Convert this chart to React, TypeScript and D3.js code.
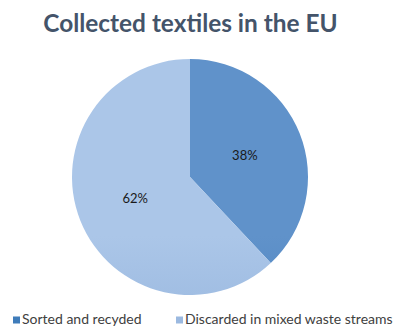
import React from "react";
import * as d3 from "d3";

const categories = ["Sorted and recycled", "Discarded in mixed waste streams"];
const values = [38, 62];
const legendLabels = ["Sorted and recyded", "Discarded in mixed waste streams"];
const title = "Collected textiles in the EU";

const W = 394;
const H = 327;
const cx = 190;
const cy = 177;
const R = 118;

const gradients = [
  { id: "g0", top: "#6092ca", bottom: "#3a76b4", legend: "#3f7cba" },
  { id: "g1", top: "#abc6e8", bottom: "#83a6d4", legend: "#9bb9e0" },
];

const legendX = [13, 176];

export default function App() {
  const pie = d3.pie<number>().sort(null).value((d) => d)(values);
  const arc = d3.arc<d3.PieArcDatum<number>>().innerRadius(0).outerRadius(R);
  const labelArc = d3.arc<d3.PieArcDatum<number>>().innerRadius(R * 0.5).outerRadius(R * 0.5);
  const total = d3.sum(values);

  return (
    <svg
      width={W}
      height={H}
      style={{ position: "absolute", left: 0, top: 0, background: "#fff" }}
      fontFamily="Lato, 'Open Sans', sans-serif"
    >
      <defs>
        {gradients.map((g) => (
          <linearGradient
            key={g.id}
            id={g.id}
            gradientUnits="userSpaceOnUse"
            x1={0}
            y1={cy - R}
            x2={0}
            y2={cy + R}
          >
            <stop offset="0%" stopColor={g.top} />
            <stop offset="100%" stopColor={g.bottom} />
          </linearGradient>
        ))}
      </defs>
      <text
        x={190.5}
        y={32}
        textAnchor="middle"
        fontSize={24.4}
        fontWeight={700}
        fill="#44546a"
      >
        {title}
      </text>
      <g transform={`translate(${cx},${cy})`}>
        {pie.map((p, i) => (
          <path key={categories[i]} d={arc(p) || ""} fill={`url(#${gradients[i].id})`} />
        ))}
        {pie.map((p, i) => {
          const [x, y] = labelArc.centroid(p);
          return (
            <text
              key={"l" + i}
              x={x}
              y={y}
              dy="0.35em"
              textAnchor="middle"
              fontSize={13}
              fill="#1a1a1a"
            >
              {Math.round((p.value / total) * 100)}%
            </text>
          );
        })}
      </g>
      <g>
        {legendX.map((lx, i) => (
          <g key={"lg" + i}>
            <rect x={lx} y={316.5} width={7} height={7} fill={gradients[i].legend} />
            <text x={lx + 9} y={324} fontSize={14} fill="#404040">
              {legendLabels[i]}
            </text>
          </g>
        ))}
      </g>
    </svg>
  );
}
